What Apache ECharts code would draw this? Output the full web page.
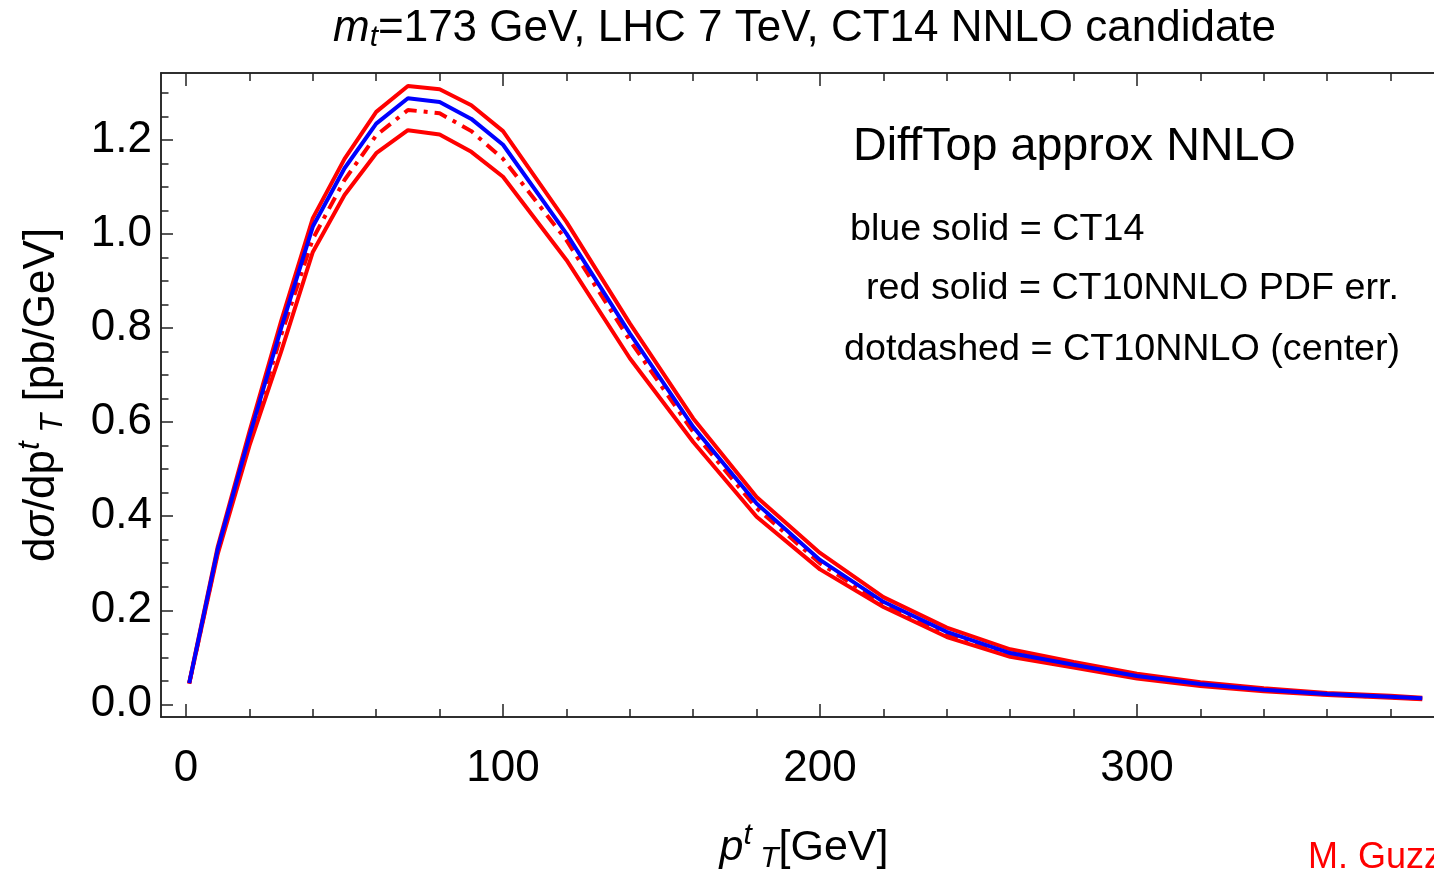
<!DOCTYPE html>
<html>
<head>
<meta charset="utf-8">
<script src="https://cdn.jsdelivr.net/npm/echarts@6/dist/echarts.min.js"></script>
<style>
  html, body { margin: 0; padding: 0; background: #fff; }
  #main { width: 1434px; height: 874px; }
</style>
</head>
<body>
<div id="main"></div>
<script>
// pT grid [GeV]
var ptValues = [1, 10, 20, 30, 40, 50, 60, 70, 80, 90, 100, 120, 140, 160, 180, 200, 220, 240, 260, 280, 300, 320, 340, 360, 380, 390];
// CT14 (blue solid)
var ct14Blue = [0.045, 0.33, 0.57, 0.80, 1.016, 1.14, 1.235, 1.289, 1.281, 1.245, 1.19, 1.001, 0.789, 0.59, 0.427, 0.307, 0.218, 0.154, 0.109, 0.084, 0.060, 0.043, 0.031, 0.022, 0.016, 0.013];
// CT10NNLO PDF error band (red solid)
var redUpper = [0.046, 0.335, 0.58, 0.815, 1.034, 1.16, 1.26, 1.315, 1.308, 1.274, 1.219, 1.026, 0.81, 0.608, 0.441, 0.322, 0.228, 0.163, 0.117, 0.090, 0.065, 0.047, 0.034, 0.024, 0.018, 0.014];
var redLower = [0.044, 0.32, 0.55, 0.75, 0.962, 1.083, 1.172, 1.221, 1.212, 1.175, 1.122, 0.945, 0.736, 0.558, 0.399, 0.287, 0.207, 0.143, 0.101, 0.078, 0.055, 0.039, 0.028, 0.020, 0.014, 0.011];
// CT10NNLO central (dotdashed)
var ct10Center = [0.044, 0.325, 0.56, 0.785, 0.99, 1.115, 1.21, 1.264, 1.257, 1.219, 1.16, 0.987, 0.774, 0.579, 0.417, 0.30, 0.213, 0.150, 0.106, 0.082, 0.058, 0.042, 0.030, 0.021, 0.015, 0.012];

var xMajor = [0, 100, 200, 300];
var xMinor = [20, 40, 60, 80, 120, 140, 160, 180, 220, 240, 260, 280, 320, 340, 360, 380];
var yMajor = [0, 0.2, 0.4, 0.6, 0.8, 1.0, 1.2];
var yMinor = [0.05, 0.1, 0.15, 0.25, 0.3, 0.35, 0.45, 0.5, 0.55, 0.65, 0.7, 0.75, 0.85, 0.9, 0.95, 1.05, 1.1, 1.15, 1.25, 1.3];

function pairs(ys) {
  return ptValues.map(function (x, i) { return [x, ys[i]]; });
}

var FONT = "'Liberation Sans', Arial, Helvetica, sans-serif";
var frameColor = "#222";
var xMin = -7.9, xMax = 393.7;
var yMin = -0.027, yMax = 1.3426;

function xAx(pos, ticks, len, labels) {
  return {
    type: "value", position: pos, min: xMin, max: xMax,
    axisLine: { show: true, onZero: false, lineStyle: { color: frameColor, width: 1.5 } },
    axisTick: { show: true, inside: true, length: len, customValues: ticks, lineStyle: { color: frameColor, width: 1.5 } },
    axisLabel: labels ? {
      show: true, customValues: xMajor, margin: 30, color: "#000",
      fontSize: 44, fontFamily: FONT, formatter: function (v) { return String(v); }
    } : { show: false },
    splitLine: { show: false }
  };
}
function yAx(pos, ticks, len, labels) {
  return {
    type: "value", position: pos, min: yMin, max: yMax,
    axisLine: { show: true, onZero: false, lineStyle: { color: frameColor, width: 1.5 } },
    axisTick: { show: true, inside: true, length: len, customValues: ticks, lineStyle: { color: frameColor, width: 1.5 } },
    axisLabel: labels ? {
      show: true, customValues: yMajor, margin: 9, color: "#000", padding: [8, 0, 0, 0],
      fontSize: 44, fontFamily: FONT, formatter: function (v) { return v.toFixed(1); }
    } : { show: false },
    splitLine: { show: false }
  };
}

var myChart = echarts.init(document.getElementById("main"));
myChart.setOption({
  animation: false,
  backgroundColor: "#fff",
  grid: { left: 161, top: 73, right: 0, bottom: 157, containLabel: false },
  xAxis: [
    xAx("bottom", xMajor, 13, true),
    xAx("bottom", xMinor, 8, false),
    xAx("top", xMajor, 13, false),
    xAx("top", xMinor, 8, false)
  ],
  yAxis: [
    yAx("left", yMajor, 12, true),
    yAx("left", yMinor, 7.5, false)
  ],
  series: [
    { name: "red upper", type: "line", data: pairs(redUpper), symbol: "none", lineStyle: { color: "#ff0000", width: 4 }, z: 2 },
    { name: "red lower", type: "line", data: pairs(redLower), symbol: "none", lineStyle: { color: "#ff0000", width: 4 }, z: 2 },
    { name: "center", type: "line", data: pairs(ct10Center), symbol: "none", lineStyle: { color: "#ff0000", width: 4, type: [13, 7, 4, 7] }, z: 3 },
    { name: "CT14", type: "line", data: pairs(ct14Blue), symbol: "none", lineStyle: { color: "#0000ff", width: 4 }, z: 4 }
  ],
  graphic: [
    {
      type: "text", x: 333, y: 29,
      style: {
        text: "{i|m}{sb|t}=173 GeV, LHC 7 TeV, CT14 NNLO candidate",
        font: "44px " + FONT, fill: "#000", align: "left", verticalAlign: "middle",
        rich: {
          i: { fontSize: 44, fontFamily: FONT, fontStyle: "italic" },
          sb: { fontSize: 30, fontFamily: FONT, fontStyle: "italic", padding: [18, 0, 0, 0] }
        }
      }
    },
    {
      type: "text", x: 42, y: 395, rotation: Math.PI / 2,
      style: {
        text: "d{i|σ}/dp{sp|t}{sb| T} [pb/GeV]",
        font: "44px " + FONT, fill: "#000", align: "center", verticalAlign: "middle",
        rich: {
          i: { fontSize: 44, fontFamily: FONT, fontStyle: "italic" },
          sp: { fontSize: 31, fontFamily: FONT, fontStyle: "italic", padding: [0, 0, 24, 0] },
          sb: { fontSize: 31, fontFamily: FONT, fontStyle: "italic", padding: [22, 0, 0, 0] }
        }
      }
    },
    {
      type: "text", x: 804, y: 848,
      style: {
        text: "{i|p}{sp|t}{sb| T}[GeV]",
        font: "43px " + FONT, fill: "#000", align: "center", verticalAlign: "middle",
        rich: {
          i: { fontSize: 43, fontFamily: FONT, fontStyle: "italic" },
          sp: { fontSize: 30, fontFamily: FONT, fontStyle: "italic", padding: [0, 0, 24, 0] },
          sb: { fontSize: 30, fontFamily: FONT, fontStyle: "italic", padding: [22, 0, 0, 0] }
        }
      }
    },
    {
      type: "text", x: 853, y: 147,
      style: { text: "DiffTop approx NNLO", font: "46.7px " + FONT, fill: "#000", align: "left", verticalAlign: "middle" }
    },
    {
      type: "text", x: 850, y: 230,
      style: { text: "blue solid = CT14", font: "37.7px " + FONT, fill: "#000", align: "left", verticalAlign: "middle" }
    },
    {
      type: "text", x: 866, y: 289,
      style: { text: "red solid = CT10NNLO PDF err.", font: "37.7px " + FONT, fill: "#000", align: "left", verticalAlign: "middle" }
    },
    {
      type: "text", x: 844, y: 350,
      style: { text: "dotdashed = CT10NNLO (center)", font: "37.7px " + FONT, fill: "#000", align: "left", verticalAlign: "middle" }
    },
    {
      type: "text", x: 1308, y: 858,
      style: { text: "M. Guzzi", font: "36px " + FONT, fill: "#ff0000", align: "left", verticalAlign: "middle" }
    }
  ]
});
</script>
</body>
</html>
